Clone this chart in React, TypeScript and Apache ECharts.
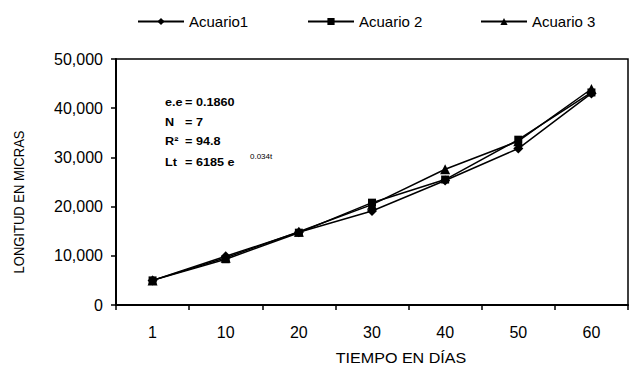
import React, { useEffect, useRef } from "react";
import * as echarts from "echarts";

const days = ["1", "10", "20", "30", "40", "50", "60"];
const acuario1 = [5000, 9900, 14800, 19100, 25300, 31800, 43000];
const acuario2 = [5000, 9300, 14700, 20800, 25500, 33600, 43200];
const acuario3 = [5000, 9600, 14900, 20400, 27600, 33300, 43900];
const seriesNames = ["Acuario1", "Acuario 2", "Acuario 3"];
const yTicks = { min: 0, max: 50000, interval: 10000 };

const FONT = "'Liberation Sans', Arial, sans-serif";

export default function App() {
  const ref = useRef<HTMLDivElement>(null);
  useEffect(() => {
    if (!ref.current) return;
    const chart = echarts.init(ref.current, null, { renderer: "svg" });
    const symbols = ["diamond", "rect", "triangle"];
    const symbolSizes: any[] = [[10, 10], 8, 10];
    const datasets = [acuario1, acuario2, acuario3];
    const legendLefts = [132, 302, 475];
    chart.setOption({
      animation: false,
      backgroundColor: "#ffffff",
      textStyle: { fontFamily: FONT, color: "#000" },
      legend: seriesNames.map((n, i) => ({
        data: [n],
        left: legendLefts[i],
        top: 9,
        itemWidth: 46,
        itemHeight: 9,
        itemGap: 6,
        textStyle: { fontFamily: FONT, fontSize: 15, color: "#000" },
      })),
      grid: {
        left: 116,
        right: 6,
        top: 59,
        bottom: 69,
        show: true,
        borderColor: "#000",
        borderWidth: 1.5,
        backgroundColor: "transparent",
      },
      xAxis: {
        type: "category",
        data: days,
        boundaryGap: true,
        axisLine: { show: true, lineStyle: { color: "#000", width: 2 } },
        axisTick: { show: true, inside: false, length: 5, interval: 0, lineStyle: { color: "#000", width: 1.5 } },
        axisLabel: { margin: 19, fontSize: 16, color: "#000", fontFamily: FONT },
        splitLine: { show: false },
      },
      yAxis: {
        type: "value",
        min: yTicks.min,
        max: yTicks.max,
        interval: yTicks.interval,
        axisLine: { show: true, lineStyle: { color: "#000", width: 2 } },
        axisTick: { show: true, inside: false, length: 5, lineStyle: { color: "#000", width: 1.5 } },
        axisLabel: {
          margin: 13,
          fontSize: 16,
          color: "#000",
          fontFamily: FONT,
          formatter: (v: number) => v.toLocaleString("en-US"),
        },
        splitLine: { show: false },
      },
      graphic: [
        {
          type: "text",
          x: 401,
          y: 358,
          scaleX: 1.15,
          style: {
            text: "TIEMPO EN DÍAS",
            fontSize: 14,
            fontFamily: FONT,
            fill: "#000",
            textAlign: "center",
            textVerticalAlign: "middle",
          },
        },
        {
          type: "text",
          x: 19,
          y: 202,
          rotation: Math.PI / 2,
          scaleY: 1.15,
          style: {
            text: "LONGITUD EN MICRAS",
            fontSize: 13,
            fontFamily: FONT,
            fill: "#000",
            textAlign: "center",
            textVerticalAlign: "middle",
          },
        },
        ...[
          ["e.e", "= 0.1860", 102],
          ["N", "= 7", 122],
          ["R²", "= 94.8", 141],
          ["Lt", "= 6185 e", 162],
        ].flatMap(([a, b, y]) => [
          {
            type: "text",
            x: 165,
            y: y as number,
            scaleX: 1.15,
            style: { text: a as string, fontSize: 11, fontWeight: "bold", fontFamily: FONT, fill: "#000", textVerticalAlign: "middle" },
          },
          {
            type: "text",
            x: 185,
            y: y as number,
            scaleX: 1.15,
            style: { text: b as string, fontSize: 11, fontWeight: "bold", fontFamily: FONT, fill: "#000", textVerticalAlign: "middle" },
          },
        ]),
        {
          type: "text",
          x: 250,
          y: 156,
          style: { text: "0.034t", fontSize: 8, fontFamily: FONT, fill: "#000", textVerticalAlign: "middle" },
        },
      ],
      series: datasets.map((d, i) => ({
        name: seriesNames[i],
        type: "line",
        data: d,
        symbol: symbols[i],
        symbolSize: symbolSizes[i],
        showSymbol: true,
        lineStyle: { color: "#000", width: 1.5 },
        itemStyle: { color: "#000" },
        z: 3 + i,
      })),
    });
    return () => chart.dispose();
  }, []);
  return (
    <div
      ref={ref}
      style={{ position: "fixed", left: 0, top: 0, width: 634, height: 374, background: "#fff" }}
    />
  );
}
